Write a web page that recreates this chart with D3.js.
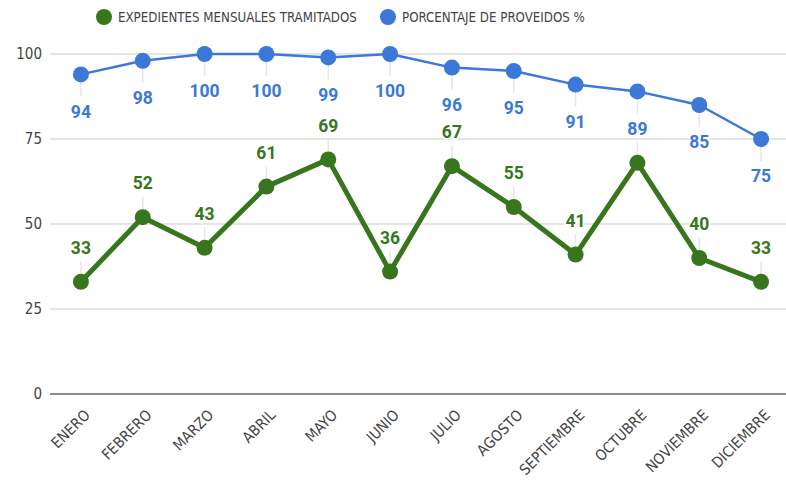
<!DOCTYPE html>
<html>
<head>
<meta charset="utf-8">
<script src="https://cdn.jsdelivr.net/npm/d3@7"></script>
<style>
  body { margin: 0; background: #fff; }
  text { font-family: "Liberation Sans Narrow", "DejaVu Sans Condensed", Roboto, sans-serif; }
</style>
</head>
<body>
<div id="main"></div>
<script>
var months = ["ENERO", "FEBRERO", "MARZO", "ABRIL", "MAYO", "JUNIO", "JULIO",
              "AGOSTO", "SEPTIEMBRE", "OCTUBRE", "NOVIEMBRE", "DICIEMBRE"];
var expedientes = [33, 52, 43, 61, 69, 36, 67, 55, 41, 68, 40, 33];
var proveidos = [94, 98, 100, 100, 99, 100, 96, 95, 91, 89, 85, 75];
var yTicks = [0, 25, 50, 75, 100];
var seriesNames = ["EXPEDIENTES MENSUALES TRAMITADOS", "PORCENTAJE DE PROVEIDOS %"];

var width = 786, height = 481;
var green = "#38761d", blue = "#3c78d8";

var svg = d3.select("#main")
        .append("svg")
        .attr("width", width)
        .attr("height", height);

var x = d3.scaleBand().domain(months).range([50, 792]);
var y = d3.scaleLinear().domain([0, 100]).range([394, 54]);
var cx = function(d, i) { return x(months[i]) + x.bandwidth() / 2; };

// grid
svg.append("g")
    .selectAll("line")
    .data(yTicks.filter(function(t) { return t > 0; }))
    .enter().append("line")
    .attr("x1", 50).attr("x2", width)
    .attr("y1", function(t) { return y(t); })
    .attr("y2", function(t) { return y(t); })
    .attr("stroke", "#dcdcdc")
    .attr("stroke-width", 1.5);

svg.append("line")
    .attr("x1", 50).attr("x2", width)
    .attr("y1", y(0)).attr("y2", y(0))
    .attr("stroke", "#8c8c8c")
    .attr("stroke-width", 2);

svg.append("g")
    .selectAll("text")
    .data(yTicks)
    .enter().append("text")
    .attr("x", 42)
    .attr("y", function(t) { return y(t); })
    .attr("dy", "0.35em")
    .attr("text-anchor", "end")
    .attr("fill", "#444")
    .style("font-size", "15px")
    .text(function(t) { return t; });

// x labels
svg.append("g")
    .selectAll("text")
    .data(months)
    .enter().append("text")
    .attr("transform", function(m) {
        return "translate(" + (x(m) + x.bandwidth() / 2 + 10) + "," + (y(0) + 22) + ") rotate(-45)";
    })
    .attr("text-anchor", "end")
    .attr("fill", "#444")
    .style("font-size", "15px")
    .text(function(m) { return m; });

function drawSeries(values, color, lineWidth, labelOffset) {
    var g = svg.append("g");
    // annotation stems
    g.selectAll("line.stem")
        .data(values)
        .enter().append("line")
        .attr("class", "stem")
        .attr("x1", cx).attr("x2", cx)
        .attr("y1", function(d) { return y(d); })
        .attr("y2", function(d) { return y(d) + labelOffset * 0.6; })
        .attr("stroke", "#e6e6e6")
        .attr("stroke-width", 1.5);

    g.append("path")
        .datum(values)
        .attr("fill", "none")
        .attr("stroke", color)
        .attr("stroke-width", lineWidth)
        .attr("stroke-linejoin", "round")
        .attr("d", d3.line().x(cx).y(function(d) { return y(d); }));

    g.selectAll("circle")
        .data(values)
        .enter().append("circle")
        .attr("cx", cx)
        .attr("cy", function(d) { return y(d); })
        .attr("r", 8)
        .attr("fill", color);

    g.selectAll("text")
        .data(values)
        .enter().append("text")
        .attr("x", cx)
        .attr("y", function(d) { return y(d) + labelOffset; })
        .attr("dy", "0.35em")
        .attr("text-anchor", "middle")
        .attr("fill", color)
        .attr("stroke", "#fff")
        .attr("stroke-width", 3)
        .attr("paint-order", "stroke")
        .style("font-family", "Roboto, sans-serif")
        .style("font-weight", "bold")
        .style("font-size", "17.5px")
        .text(function(d) { return d; });
}

drawSeries(expedientes, green, 5, -34);
drawSeries(proveidos, blue, 2.5, 37);

// legend
var legend = svg.append("g");
[[104, green, seriesNames[0]], [388, blue, seriesNames[1]]].forEach(function(l) {
    legend.append("circle")
        .attr("cx", l[0]).attr("cy", 17).attr("r", 8)
        .attr("fill", l[1]);
    legend.append("text")
        .attr("x", l[0] + 14).attr("y", 17)
        .attr("dy", "0.35em")
        .attr("fill", "#444")
        .style("font-size", "13.2px")
        .text(l[2]);
});
</script>
</body>
</html>
